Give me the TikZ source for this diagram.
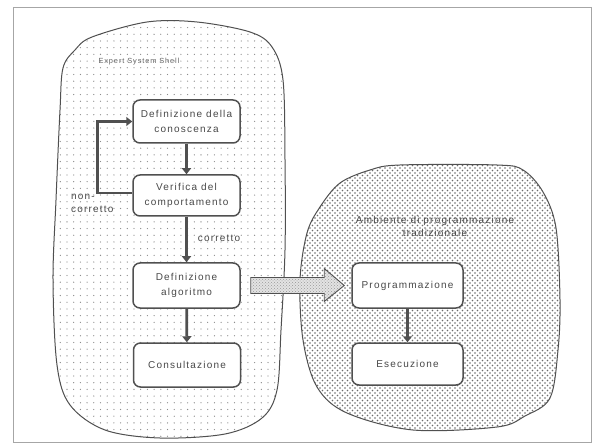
\documentclass[tikz,border=0pt]{standalone}
\usepackage{fontspec}
\setmainfont{Liberation Sans}
\newfontfamily\boxfont[LetterSpace=12]{Liberation Sans}
\usetikzlibrary{arrows.meta,patterns,patterns.meta,calc}
\definecolor{ink}{HTML}{505050}
\definecolor{txt}{HTML}{484848}
\begin{document}
\begin{tikzpicture}[x=1pt,y=-1pt,
  box/.style={draw=ink, line width=1.5pt, rounded corners=7pt, fill=white, align=center,
    font=\boxfont\fontsize{10}{15}\selectfont, text=txt, inner sep=0pt},
  arr/.style={draw=ink, line width=2.8pt, -{Triangle[width=9pt,length=6pt]}},
  lbl/.style={font=\boxfont\fontsize{10}{13}\selectfont, text=txt, inner sep=0pt},
  blob/.style={draw=ink, line width=1pt}]
\useasboundingbox (0,0) rectangle (596,443);
\fill[white] (0,0) rectangle (596,443);
\draw[gray!70, line width=1pt] (13,8) rectangle (591,442);

% left blob
\def\leftblob{plot[smooth cycle, tension=0.55] coordinates {
  (147,22) (197,22) (250,32) (272,47) (283,80) (285,160) (285,250) (281,330)
  (277,390) (262,418) (225,434) (160,438) (105,430) (70,405) (57,365) (53,280)
  (56,200) (60,110) (63,68) (75,50) (92,37)}}
\path[pattern={Dots[radius=0.65pt,distance=6.7pt]}, pattern color=gray!90] \leftblob;
\path[blob] \leftblob;

% right blob
\def\rightblob{plot[smooth cycle, tension=0.55] coordinates {
  (400,165) (497,165) (523,170) (543,192) (556,228) (560,300) (558,350) (550,398)
  (525,416) (497,427) (413,430) (347,413) (317,387) (303,340) (300,280) (307,233)
  (320,207) (340,183) (370,170)}}
\path[pattern={Dots[radius=0.8pt,distance=5pt]}, pattern color=gray!85!black] \rightblob;
\path[pattern={Dots[radius=0.8pt,distance=5pt,xshift=2.5pt,yshift=2.5pt]}, pattern color=gray!85!black] \rightblob;
\path[blob] \rightblob;

\node[font=\boxfont\fontsize{7.4}{9}\selectfont, text=txt!85, inner sep=0pt] (ess) at (139,62) {Expert System Shell};

\node[box, minimum width=107pt, minimum height=43pt] (b1) at (186.5,121.5) {Definizione della\\conoscenza};
\node[box, minimum width=107pt, minimum height=41pt] (b2) at (186.5,195.5) {Verifica del\\comportamento};
\node[box, minimum width=107pt, minimum height=45pt] (b3) at (186.5,285.5) {Definizione\\algoritmo};
\node[box, minimum width=107pt, minimum height=44pt] (b4) at (187,365) {Consultazione};

\node[lbl, align=center] (amb) at (435,226) {Ambiente di programmazione\\tradizionale};
\node[box, minimum width=111pt, minimum height=45pt] (p1) at (407.5,285.5) {Programmazione};
\node[box, minimum width=111pt, minimum height=42pt] (p2) at (407.5,364) {Esecuzione};

\draw[arr] (b1) -- (b2);
\draw[arr] (b2) -- (b3);
\draw[arr] (b3) -- (b4);
\draw[arr] (p1) -- (p2);
\draw[arr] ([yshift=2.5pt]b2.west) -- ++(-35,0) |- (b1.west);

\node[lbl, align=left, anchor=north west] (nc) at (71,194) {non-\\corretto};
\node[lbl] (co) at (219,238) {corretto};

% big hatched arrow
\coordinate (ba0) at ($(b3.east)+(10,0)$);
\coordinate (ba1) at ($(p1.west)+(-7,0)$);
\def\bigarrow{($(ba0)+(0,-8)$) -- ($(ba1)+(-20,-8)$) -- ($(ba1)+(-20,-17)$) -- (ba1)
  -- ($(ba1)+(-20,16)$) -- ($(ba1)+(-20,8)$) -- ($(ba0)+(0,8)$) -- cycle}
\fill[gray!22] \bigarrow;
\path[pattern=crosshatch dots, pattern color=gray!80] \bigarrow;
\draw[ink, line width=0.9pt, line join=miter] \bigarrow;
\end{tikzpicture}
\end{document}
